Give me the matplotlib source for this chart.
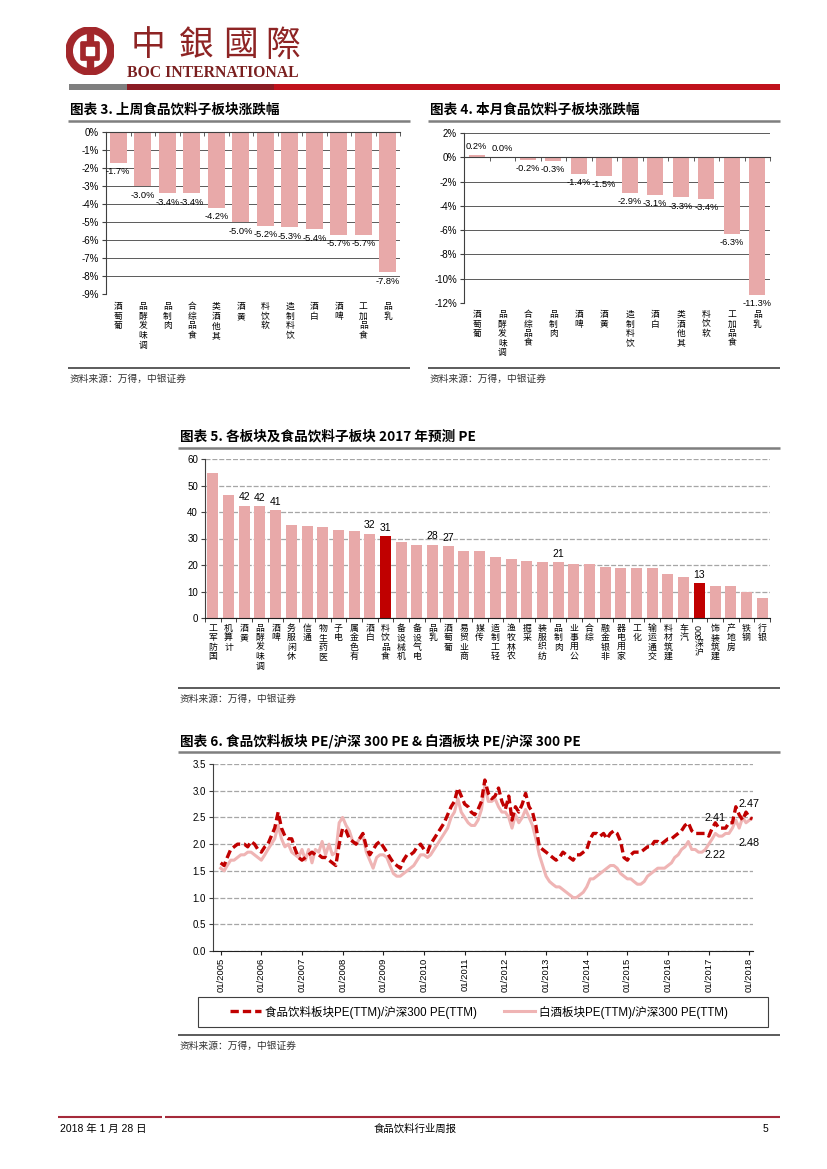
import numpy as np
import pandas as pd
import matplotlib
matplotlib.use("Agg")
import matplotlib.pyplot as plt
import matplotlib.dates as mdates
from matplotlib.patches import Circle, Rectangle, FancyBboxPatch
from matplotlib.lines import Line2D

W, H = 827, 1169
CJK = ['Noto Sans CJK SC', 'DejaVu Sans']
TC = ['Noto Sans CJK TC', 'DejaVu Sans']
NUM = ['Liberation Sans Narrow', 'Liberation Sans', 'Noto Sans CJK SC', 'DejaVu Sans']
plt.rcParams['font.family'] = CJK
plt.rcParams['axes.unicode_minus'] = False

PINK = '#E8A9A9'
PINK_LINE = '#EFB4B4'
DARKRED = '#C00000'
GRID_DARK = '#404040'
GRID_GRAY = '#A6A6A6'

# ---------------- data ----------------
week_cats = ['葡萄酒', '调味发酵品', '肉制品', '食品综合', '其他酒类', '黄酒', '软饮料',
             '饮料制造', '白酒', '啤酒', '食品加工', '乳品']
week_vals = [-1.7, -3.0, -3.4, -3.4, -4.2, -5.0, -5.2, -5.3, -5.4, -5.7, -5.7, -7.8]

month_cats = ['葡萄酒', '调味发酵品', '食品综合', '肉制品', '啤酒', '黄酒', '饮料制造',
              '白酒', '其他酒类', '软饮料', '食品加工', '乳品']
month_vals = [0.2, 0.0, -0.2, -0.3, -1.4, -1.5, -2.9, -3.1, -3.3, -3.4, -6.3, -11.3]

pe_cats = ['国防军工', '计算机', '黄酒', '调味发酵品', '啤酒', '休闲服务', '通信', '医药生物',
           '电子', '有色金属', '白酒', '食品饮料', '机械设备', '电气设备', '乳品', '葡萄酒',
           '商业贸易', '传媒', '轻工制造', '农林牧渔', '采掘', '纺织服装', '肉制品', '公用事业',
           '综合', '非银金融', '家用电器', '化工', '交通运输', '建筑材料', '汽车', '沪深300',
           '建筑装饰', '房地产', '钢铁', '银行']
pe_vals = [54.8, 46.4, 42.3, 42.1, 40.6, 35.1, 34.8, 34.2, 33.2, 32.7, 31.8, 30.9,
           28.6, 27.4, 27.6, 27.1, 25.4, 25.1, 23.1, 22.3, 21.6, 21.1, 21.0, 20.5,
           20.4, 19.2, 19.0, 18.8, 18.7, 16.6, 15.5, 13.1, 12.2, 12.2, 10.0, 7.4]
pe_highlight = ['食品饮料', '沪深300']
pe_labeled = ['黄酒', '调味发酵品', '啤酒', '白酒', '食品饮料', '乳品', '葡萄酒', '肉制品', '沪深300']

ts_dates = list(pd.date_range('2005-01-01', '2018-01-01', freq='MS')) + [pd.Timestamp('2018-01-26')]
food_pe = [
    1.65, 1.60, 1.75, 1.90, 1.95, 2.00, 2.00, 2.00, 1.95, 2.05, 2.00, 1.90,   # 2005
    1.85, 1.95, 2.00, 2.15, 2.30, 2.60, 2.30, 2.15, 2.10, 2.10, 1.90, 1.75,   # 2006
    1.70, 1.75, 1.80, 1.85, 1.80, 1.80, 1.75, 1.75, 1.70, 1.65, 1.60, 2.00,   # 2007
    2.30, 2.25, 2.10, 2.05, 2.00, 2.10, 2.20, 1.95, 1.80, 1.90, 2.00, 2.05,   # 2008
    1.95, 1.85, 1.75, 1.65, 1.60, 1.55, 1.70, 1.80, 1.80, 1.85, 1.95, 2.00,   # 2009
    1.90, 1.85, 2.00, 2.10, 2.20, 2.30, 2.40, 2.55, 2.70, 2.80, 3.05, 2.90,   # 2010
    2.75, 2.70, 2.60, 2.55, 2.65, 2.80, 3.20, 2.95, 2.85, 2.90, 3.05, 2.80,   # 2011
    2.65, 2.90, 2.45, 2.70, 2.60, 2.75, 2.95, 2.70, 2.60, 2.35, 1.95, 1.90,   # 2012
    1.85, 1.80, 1.75, 1.70, 1.75, 1.85, 1.80, 1.75, 1.70, 1.80, 1.80, 1.85,   # 2013
    1.90, 2.10, 2.20, 2.20, 2.15, 2.20, 2.10, 2.20, 2.25, 2.20, 2.05, 1.75,   # 2014
    1.70, 1.80, 1.85, 1.85, 1.85, 1.90, 1.95, 1.95, 2.05, 2.05, 2.00, 2.05,   # 2015
    2.10, 2.10, 2.15, 2.20, 2.25, 2.35, 2.40, 2.25, 2.20, 2.20, 2.20, 2.20,   # 2016
    2.15, 2.30, 2.40, 2.30, 2.30, 2.30, 2.40, 2.40, 2.70, 2.55, 2.45, 2.60,   # 2017
    2.50, 2.47]                                                               # 2018
baijiu_pe = [
    1.55, 1.50, 1.60, 1.70, 1.70, 1.75, 1.80, 1.80, 1.85, 1.85, 1.80, 1.75,   # 2005
    1.70, 1.80, 1.90, 2.00, 2.10, 2.35, 2.10, 1.95, 2.00, 1.85, 1.80, 1.75,   # 2006
    1.90, 1.70, 1.90, 1.65, 1.90, 1.85, 2.05, 1.80, 2.00, 1.80, 1.85, 2.40,   # 2007
    2.50, 2.35, 2.25, 2.05, 2.00, 2.10, 2.15, 1.85, 1.70, 1.55, 1.75, 1.80,   # 2008
    1.80, 1.75, 1.60, 1.45, 1.40, 1.40, 1.45, 1.50, 1.55, 1.60, 1.70, 1.80,   # 2009
    1.80, 1.75, 1.80, 1.90, 2.00, 2.10, 2.20, 2.30, 2.50, 2.60, 2.85, 2.60,   # 2010
    2.50, 2.40, 2.35, 2.35, 2.45, 2.65, 3.10, 2.80, 2.80, 2.85, 2.70, 2.60,   # 2011
    2.60, 2.50, 2.30, 2.55, 2.40, 2.50, 2.65, 2.50, 2.35, 2.10, 1.80, 1.60,   # 2012
    1.40, 1.30, 1.25, 1.20, 1.20, 1.15, 1.10, 1.05, 1.00, 1.00, 1.05, 1.10,   # 2013
    1.20, 1.35, 1.35, 1.40, 1.45, 1.50, 1.55, 1.60, 1.60, 1.55, 1.45, 1.40,   # 2014
    1.35, 1.35, 1.30, 1.25, 1.25, 1.30, 1.40, 1.45, 1.50, 1.55, 1.55, 1.55,   # 2015
    1.60, 1.65, 1.75, 1.80, 1.90, 1.95, 2.05, 1.90, 1.90, 1.85, 1.85, 1.90,   # 2016
    2.00, 2.10, 2.20, 2.15, 2.15, 2.20, 2.20, 2.30, 2.45, 2.30, 2.50, 2.40,   # 2017
    2.45, 2.48]                                                               # 2018
ts_notes = [('2.41', '2017-02-25', 2.48), ('2.22', '2017-02-25', 1.79),
            ('2.47', '2018-01-01', 2.76), ('2.48', '2018-01-01', 2.03)]
ts_labels = ['食品饮料板块PE(TTM)/沪深300 PE(TTM)', '白酒板块PE(TTM)/沪深300 PE(TTM)']

# ---------------- figure ----------------
fig = plt.figure(figsize=(W / 100, H / 100), dpi=100)
page = fig.add_axes([0, 0, 1, 1], zorder=0)
page.set_xlim(0, W)
page.set_ylim(H, 0)
page.axis('off')


def px_axes(l, t, r, b, **kw):
    return fig.add_axes([l / W, 1 - b / H, (r - l) / W, (b - t) / H], **kw)


def num_ticklabels(ax, which='y'):
    labs = ax.get_yticklabels() if which == 'y' else ax.get_xticklabels()
    for lab in labs:
        lab.set_fontfamily(NUM)


def stacked_label(ax, i, name, fs, off):
    cjk = ''.join(c for c in name if not c.isascii())
    asc = ''.join(c for c in name if c.isascii())
    y_off = off
    if asc:
        ax.annotate(asc, xy=(i, 0), xycoords=('data', 'axes fraction'), xytext=(0, -y_off),
                    textcoords='offset points', ha='center', va='top', rotation=90,
                    fontsize=fs, family=NUM, annotation_clip=False)
        y_off += fs * 0.5 * len(asc) + 1.5
    ax.annotate('\n'.join(reversed(cjk)), xy=(i, 0), xycoords=('data', 'axes fraction'),
                xytext=(0, -y_off), textcoords='offset points', ha='center', va='top',
                fontsize=fs, linespacing=1.08, family=CJK, annotation_clip=False)


# ---------------- header ----------------
logo = px_axes(66, 27, 114, 75, zorder=2)
logo.set_xlim(-1, 1)
logo.set_ylim(-1, 1)
logo.set_aspect('equal')
logo.axis('off')
LOGO = '#A2272B'
logo.add_patch(Circle((0, 0), 1.0, color=LOGO))
logo.add_patch(Circle((0, 0), 0.68, color='white'))
logo.add_patch(Rectangle((-0.11, -0.72), 0.22, 1.44, color=LOGO))
logo.add_patch(FancyBboxPatch((-0.34, -0.34), 0.68, 0.68, boxstyle='round,pad=0.04', color=LOGO))
logo.add_patch(Rectangle((-0.17, -0.17), 0.34, 0.34, color='white'))

for ch, xc in zip('中銀國際', [148, 196, 240, 283]):
    page.text(xc, 46, ch, fontsize=25, family=TC, color='#8E2424', ha='center', va='center')
page.text(127, 73, 'BOC INTERNATIONAL', fontsize=11.3, family=['Liberation Serif', 'DejaVu Serif'],
          fontweight='bold', color='#7A1F1F', ha='left', va='center')
page.add_patch(Rectangle((69, 84), 58, 6, color='#7F7F7F', lw=0))
page.add_patch(Rectangle((127, 84), 147, 6, color='#8B1C24', lw=0))
page.add_patch(Rectangle((274, 84), 506, 6, color='#C0121C', lw=0))

# ---------------- titles, rules, sources ----------------
titles = [(70, 110, '图表 3. 上周食品饮料子板块涨跌幅'),
          (430, 110, '图表 4. 本月食品饮料子板块涨跌幅'),
          (180, 437, '图表 5. 各板块及食品饮料子板块 2017 年预测 PE'),
          (180, 741, '图表 6. 食品饮料板块 PE/沪深 300 PE & 白酒板块 PE/沪深 300 PE')]
for x, y, s in titles:
    page.text(x, y, s, fontsize=9.8, fontweight='bold', family=['Noto Sans CJK SC', 'Liberation Sans'],
              ha='left', va='center', color='black')
for x0, x1, y in [(68, 410, 121), (428, 780, 121), (178, 780, 448), (178, 780, 752)]:
    page.plot([x0, x1], [y, y], color='#7F7F7F', lw=1.8, solid_capstyle='butt')
for x0, x1, y in [(68, 410, 368), (428, 780, 368), (178, 780, 688), (178, 780, 1035)]:
    page.plot([x0, x1], [y, y], color='#404040', lw=1.2, solid_capstyle='butt')
for x, y in [(70, 379), (430, 379), (180, 699), (180, 1046)]:
    page.text(x, y, '资料来源：万得，中银证券', fontsize=7, color='#333333', ha='left', va='center')

# ---------------- chart 3 ----------------
ax3 = px_axes(106, 132, 400, 294, zorder=1)
x3 = np.arange(len(week_cats))
ax3.bar(x3, week_vals, width=0.68, color=PINK, zorder=2)
ax3.set_xlim(-0.5, len(week_cats) - 0.5)
ax3.set_ylim(-9, 0)
ax3.set_yticks(np.arange(-9, 1, 1))
ax3.set_yticklabels([f'{t}%' for t in range(-9, 1)])
ax3.yaxis.grid(True, color=GRID_DARK, lw=0.6)
ax3.set_axisbelow(True)
for s in ['top', 'right']:
    ax3.spines[s].set_visible(False)
ax3.spines['bottom'].set_position(('data', 0))
ax3.spines['bottom'].set_color(GRID_DARK)
ax3.spines['left'].set_color(GRID_DARK)
ax3.set_xticks([])
ax3.set_xticks(np.arange(-0.5, len(week_cats), 1), minor=True)
ax3.tick_params(axis='x', which='minor', length=3, color=GRID_DARK, direction='out')
ax3.tick_params(axis='y', length=3, color=GRID_DARK, labelsize=7, pad=2)
num_ticklabels(ax3)
ax3.patch.set_alpha(0)
for i, v in enumerate(week_vals):
    ax3.annotate(f'{v:.1f}%', xy=(i, v), xytext=(0, -3.5), textcoords='offset points',
                 ha='center', va='top', fontsize=6.7, family=NUM)
for i, n in enumerate(week_cats):
    stacked_label(ax3, i, n, 6.3, 6)

# ---------------- chart 4 ----------------
ax4 = px_axes(464, 133, 770, 303, zorder=1)
x4 = np.arange(len(month_cats))
ax4.bar(x4, month_vals, width=0.62, color=PINK, zorder=2)
ax4.set_xlim(-0.5, len(month_cats) - 0.5)
ax4.set_ylim(-12, 2)
ax4.set_yticks(np.arange(-12, 3, 2))
ax4.set_yticklabels([f'{t}%' for t in range(-12, 3, 2)])
ax4.yaxis.grid(True, color=GRID_DARK, lw=0.6)
ax4.set_axisbelow(True)
for s in ['top', 'right']:
    ax4.spines[s].set_visible(False)
ax4.spines['bottom'].set_position(('data', 0))
ax4.spines['bottom'].set_color(GRID_DARK)
ax4.spines['left'].set_color(GRID_DARK)
ax4.set_xticks([])
ax4.set_xticks(np.arange(-0.5, len(month_cats), 1), minor=True)
ax4.tick_params(axis='x', which='minor', length=3, color=GRID_DARK, direction='out')
ax4.tick_params(axis='y', length=3, color=GRID_DARK, labelsize=7, pad=2)
num_ticklabels(ax4)
ax4.patch.set_alpha(0)
for i, v in enumerate(month_vals):
    if v >= 0:
        ax4.annotate(f'{v:.1f}%', xy=(i, v), xytext=(0, 3), textcoords='offset points',
                     ha='center', va='bottom', fontsize=6.7, family=NUM)
    else:
        ax4.annotate(f'{v:.1f}%', xy=(i, v), xytext=(0, -3), textcoords='offset points',
                     ha='center', va='top', fontsize=6.7, family=NUM)
for i, n in enumerate(month_cats):
    stacked_label(ax4, i, n, 6.3, 5)

# ---------------- chart 5 ----------------
ax5 = px_axes(205, 459, 770, 618, zorder=1)
x5 = np.arange(len(pe_cats))
colors5 = [DARKRED if c in pe_highlight else PINK for c in pe_cats]
ax5.bar(x5, pe_vals, width=0.7, color=colors5, zorder=2)
ax5.set_xlim(-0.5, len(pe_cats) - 0.5)
ax5.set_ylim(0, 60)
ax5.set_yticks(np.arange(0, 61, 10))
ax5.yaxis.grid(True, color=GRID_GRAY, lw=0.9, linestyle=(0, (4, 1.5)))
ax5.set_axisbelow(True)
for s in ['top', 'right']:
    ax5.spines[s].set_visible(False)
ax5.spines['bottom'].set_color('#202020')
ax5.spines['left'].set_color(GRID_DARK)
ax5.set_xticks([])
ax5.set_xticks(np.arange(-0.5, len(pe_cats), 1), minor=True)
ax5.tick_params(axis='x', which='minor', length=3, color='#202020', direction='out')
ax5.tick_params(axis='y', length=3, color=GRID_DARK, labelsize=7, pad=2)
num_ticklabels(ax5)
ax5.patch.set_alpha(0)
for i, (n, v) in enumerate(zip(pe_cats, pe_vals)):
    if n in pe_labeled:
        ax5.annotate(f'{v:.0f}', xy=(i, v), xytext=(0, 2.5), textcoords='offset points',
                     ha='center', va='bottom', fontsize=7.5, family=NUM)
    stacked_label(ax5, i, n, 6.4, 4)

# ---------------- chart 6 ----------------
ax6 = px_axes(213, 764, 753, 951, zorder=1)
ax6.plot(ts_dates, baijiu_pe, color=PINK_LINE, lw=2.2, zorder=2)
ax6.plot(ts_dates, food_pe, color=DARKRED, lw=2.4, dashes=(2.5, 1.2), zorder=3)
ax6.set_xlim(pd.Timestamp('2004-10-24'), pd.Timestamp('2018-02-02'))
ax6.set_ylim(0, 3.5)
ax6.set_yticks(np.arange(0, 3.51, 0.5))
ax6.set_yticklabels([f'{t:.1f}' for t in np.arange(0, 3.51, 0.5)])
ax6.xaxis.set_major_locator(mdates.YearLocator())
ax6.xaxis.set_major_formatter(mdates.DateFormatter('%m/%Y'))
ax6.yaxis.grid(True, color=GRID_GRAY, lw=0.9, linestyle=(0, (4, 1.5)))
ax6.set_axisbelow(True)
for s in ['top', 'right']:
    ax6.spines[s].set_visible(False)
ax6.spines['bottom'].set_color('#202020')
ax6.spines['left'].set_color(GRID_DARK)
ax6.tick_params(axis='x', length=3, color='#202020', labelsize=6.8, pad=2, labelrotation=90)
ax6.tick_params(axis='y', length=3, color=GRID_DARK, labelsize=7, pad=2)
num_ticklabels(ax6, 'x')
num_ticklabels(ax6, 'y')
ax6.patch.set_alpha(0)
for s, d, y in ts_notes:
    ax6.text(pd.Timestamp(d), y, s, fontsize=7.8, family=NUM, ha='center', va='center', zorder=4)

page.add_patch(Rectangle((198, 997), 570, 30, fill=False, edgecolor='#404040', lw=0.8))
handles = [Line2D([], [], color=DARKRED, lw=2.4, dashes=(2.5, 1.2)),
           Line2D([], [], color=PINK_LINE, lw=2.2)]
leg = fig.legend(handles, ts_labels, loc='center', bbox_to_anchor=(479 / W, 1 - 1012 / H),
                 ncol=2, frameon=False, prop={'family': NUM, 'size': 8.3},
                 handlelength=2.7, handletextpad=0.4, columnspacing=2.3, borderaxespad=0)

# ---------------- footer ----------------
page.plot([58, 162], [1117, 1117], color='#A52A3A', lw=1.5, solid_capstyle='butt')
page.plot([165, 780], [1117, 1117], color='#A52A3A', lw=1.5, solid_capstyle='butt')
page.text(60, 1129, '2018 年 1 月 28 日', fontsize=7.5, family=NUM, ha='left', va='center')
page.text(415, 1129, '食品饮料行业周报', fontsize=7.5, ha='center', va='center')
page.text(768, 1129, '5', fontsize=7.5, family=NUM, ha='right', va='center')

fig.savefig('out.png', dpi=100)
